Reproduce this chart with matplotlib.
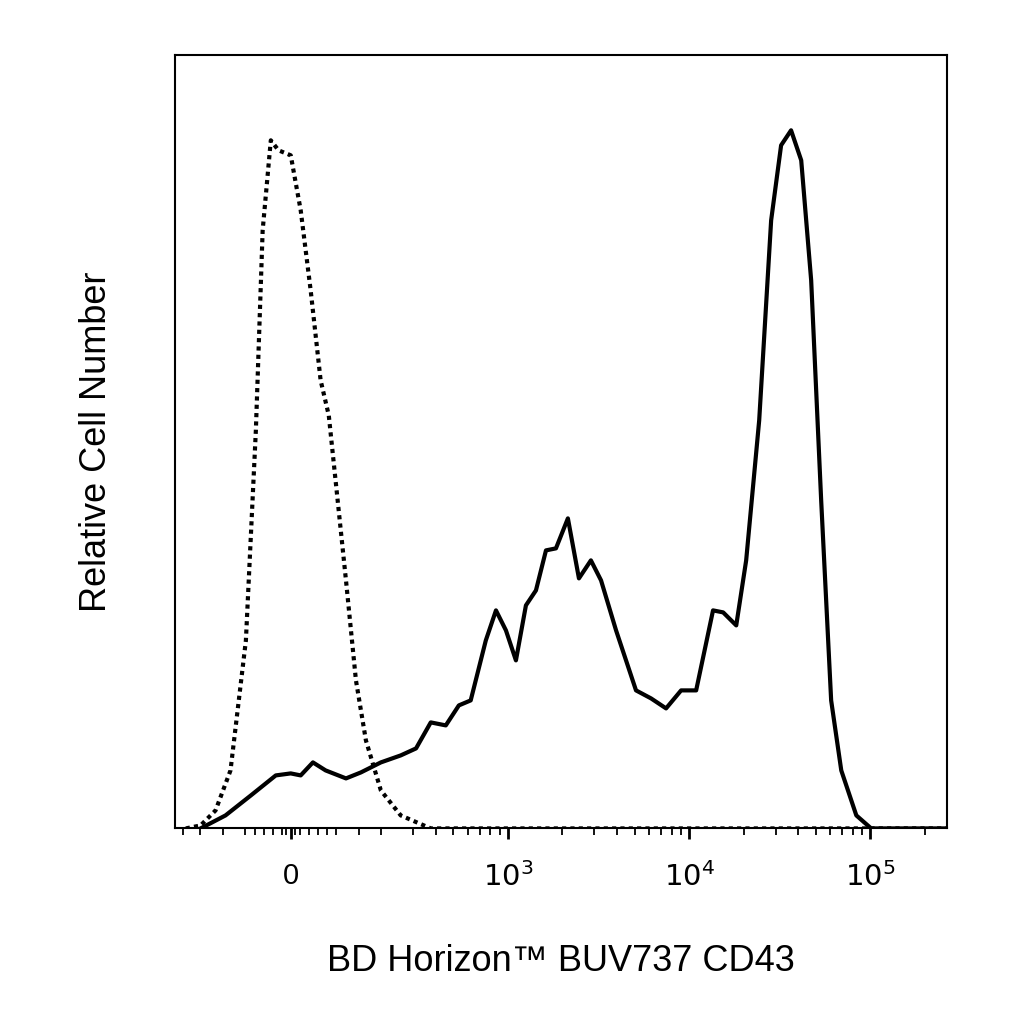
import matplotlib
matplotlib.use("Agg")
import matplotlib.pyplot as plt
import numpy as np

plt.rcParams['font.family'] = ['Liberation Sans', 'DejaVu Sans']

solid_x = [-199, -144, -88, -33, 0, 22, 49, 77, 122, 155, 199, 256, 311, 375, 454, 536, 623,
           755, 859, 975, 1107, 1257, 1428, 1622, 1841, 2143, 2466, 2871, 3266, 3953, 5094,
           6166, 7464, 9036, 10940, 13560, 15420, 18210, 20660, 24380, 28380, 32210, 36560,
           41590, 47200, 53600, 60850, 69200, 83800, 101200, 266000]
solid_py = [828, 815, 795, 775, 773, 775, 762, 770, 778, 772, 762, 755, 748, 722, 725, 705, 700,
            640, 610, 630, 660, 605, 590, 550, 548, 518, 578, 560, 580, 630, 690,
            698, 708, 690, 690, 610, 612, 625, 560, 420, 220, 145, 130,
            160, 280, 500, 700, 770, 815, 828, 828]
solid_y = [(828 - p) / 773 * 100 for p in solid_py]

dot_x = [-240, -199, -166, -133, -99, -77, -62, -44, -27, 0, 22, 44, 66, 84, 99, 122, 144, 166,
         199, 256, 375, 266000]
dot_py = [828, 825, 810, 770, 640, 430, 230, 140, 150, 155, 210, 290, 380, 415, 480, 580, 680,
          740, 790, 815, 828, 828]
dot_y = [(828 - p) / 773 * 100 for p in dot_py]

major_ticks = [0, 1e3, 1e4, 1e5]
major_labels = ["0", "$10^3$", "$10^4$", "$10^5$"]

fig = plt.figure(figsize=(10.24, 10.24), dpi=100)
ax = fig.add_axes([0.171, 0.191, 0.754, 0.755])
ax.set_xscale('symlog', linthresh=200, linscale=0.45)
ax.plot(solid_x, solid_y, color='black', lw=3, solid_joinstyle='round')
ax.plot(dot_x, dot_y, color='black', lw=3, linestyle=(0, (1, 1)))
ax.set_xlim(-275, 266000)
ax.set_ylim(0, 100)
ax.set_yticks([])
ax.set_xticks(major_ticks)
ax.set_xticklabels(major_labels, fontsize=21)
minor = [-250, -200, -150, -100, -80, -60, -40, -20, -10, 10, 20, 40, 60, 80, 100, 150, 200,
         300, 400, 500, 600, 700, 800, 900] + \
        [m * 10**e for e in (3, 4) for m in range(2, 10)] + [2e5]
ax.set_xticks(minor, minor=True)
ax.tick_params(axis='x', which='major', length=8, width=2, direction='out', pad=16)
ax.tick_params(axis='x', which='minor', length=5, width=1.3, direction='out')
for s in ax.spines.values():
    s.set_linewidth(1.5)
ax.set_xlabel("BD Horizon™ BUV737 CD43", fontsize=26, labelpad=38)
ax.set_ylabel("Relative Cell Number", fontsize=26, labelpad=44)
fig.savefig("out.png", dpi=100)
